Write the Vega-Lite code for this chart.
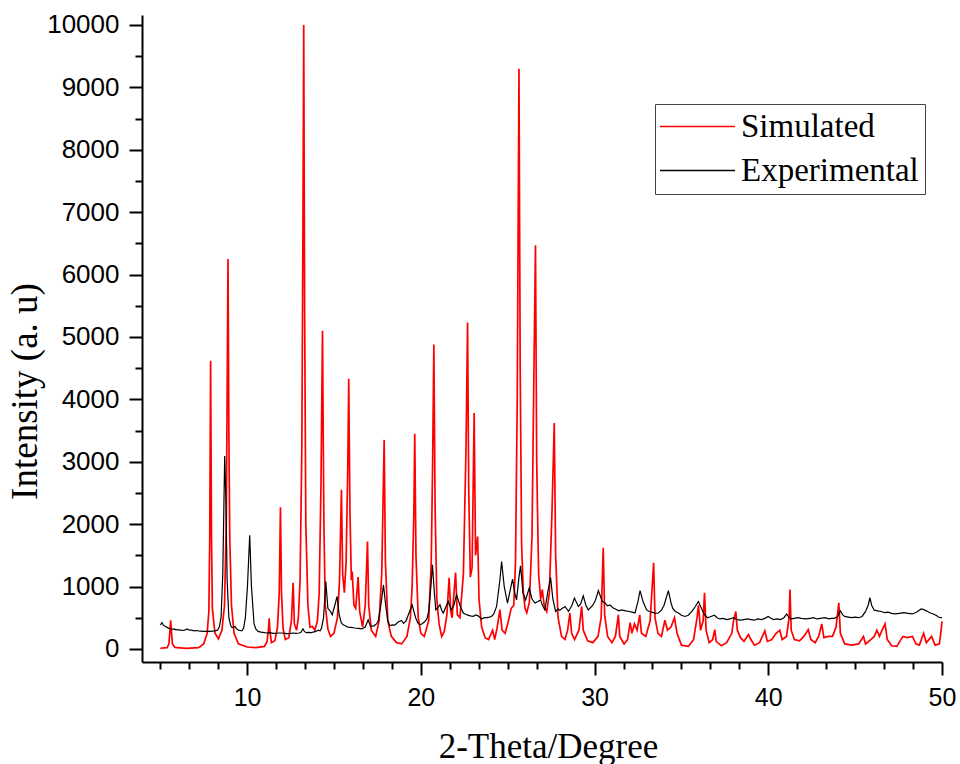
{
  "$schema": "https://vega.github.io/schema/vega-lite/v6.json",
  "autosize": {"type": "none"},
  "width": 800,
  "height": 647,
  "padding": {"left": 142, "top": 15, "right": 18, "bottom": 102},
  "background": "white",
  "config": {"view": {"stroke": null}},
  "datasets": {
    "sim": [
      {"x":5.0,"y":10},{"x":5.4,"y":20},{"x":5.5,"y":80},{"x":5.56,"y":300},{"x":5.6,"y":460},{"x":5.64,"y":300},{"x":5.7,"y":80},{"x":5.85,"y":25},{"x":6.5,"y":10},
      {"x":7.2,"y":20},{"x":7.5,"y":80},{"x":7.7,"y":250},{"x":7.8,"y":600},{"x":7.85,"y":1800},{"x":7.9,"y":4620},{"x":7.95,"y":1800},{"x":8.0,"y":650},{"x":8.15,"y":250},{"x":8.35,"y":160},
      {"x":8.55,"y":300},{"x":8.7,"y":700},{"x":8.8,"y":2000},{"x":8.85,"y":4000},{"x":8.9,"y":6250},{"x":8.95,"y":3500},{"x":9.0,"y":1800},{"x":9.1,"y":700},{"x":9.25,"y":250},{"x":9.5,"y":80},
      {"x":10.0,"y":30},{"x":10.5,"y":20},{"x":11.0,"y":40},{"x":11.15,"y":120},{"x":11.23,"y":320},{"x":11.27,"y":490},{"x":11.31,"y":300},{"x":11.4,"y":100},
      {"x":11.6,"y":130},{"x":11.75,"y":350},{"x":11.85,"y":900},{"x":11.92,"y":2270},{"x":11.98,"y":900},{"x":12.07,"y":330},{"x":12.2,"y":150},
      {"x":12.4,"y":180},{"x":12.55,"y":450},{"x":12.65,"y":1060},{"x":12.72,"y":400},{"x":12.85,"y":300},{"x":12.95,"y":500},{"x":13.05,"y":1100},
      {"x":13.15,"y":3200},{"x":13.21,"y":6500},{"x":13.26,"y":10000},{"x":13.31,"y":5500},{"x":13.38,"y":2000},{"x":13.5,"y":700},{"x":13.62,"y":350},{"x":13.76,"y":360},{"x":13.9,"y":300},
      {"x":14.05,"y":450},{"x":14.15,"y":900},{"x":14.25,"y":2600},{"x":14.34,"y":5100},{"x":14.42,"y":2000},{"x":14.5,"y":700},{"x":14.65,"y":320},{"x":14.8,"y":200},
      {"x":15.0,"y":250},{"x":15.2,"y":500},{"x":15.32,"y":1100},{"x":15.43,"y":2550},{"x":15.5,"y":1200},{"x":15.6,"y":900},{"x":15.7,"y":1400},{"x":15.8,"y":3000},{"x":15.85,"y":4330},{"x":15.92,"y":2200},
      {"x":16.0,"y":1100},{"x":16.05,"y":1240},{"x":16.15,"y":700},{"x":16.25,"y":650},{"x":16.39,"y":1150},{"x":16.48,"y":600},{"x":16.65,"y":350},{"x":16.8,"y":700},{"x":16.93,"y":1720},{"x":17.0,"y":700},
      {"x":17.15,"y":300},{"x":17.4,"y":200},{"x":17.6,"y":450},{"x":17.75,"y":1200},{"x":17.89,"y":3350},{"x":17.96,"y":1400},{"x":18.1,"y":450},{"x":18.3,"y":200},{"x":18.6,"y":100},{"x":18.9,"y":80},
      {"x":19.2,"y":200},{"x":19.4,"y":500},{"x":19.5,"y":1000},{"x":19.6,"y":2200},{"x":19.65,"y":3450},{"x":19.72,"y":1500},{"x":19.85,"y":500},{"x":20.0,"y":250},{"x":20.2,"y":200},
      {"x":20.45,"y":450},{"x":20.6,"y":1400},{"x":20.68,"y":3000},{"x":20.75,"y":4880},{"x":20.82,"y":2300},{"x":20.92,"y":800},{"x":21.05,"y":400},{"x":21.2,"y":200},
      {"x":21.35,"y":280},{"x":21.5,"y":550},{"x":21.63,"y":1140},{"x":21.72,"y":600},{"x":21.8,"y":500},{"x":22.0,"y":1225},{"x":22.1,"y":550},{"x":22.25,"y":500},
      {"x":22.45,"y":1200},{"x":22.6,"y":3200},{"x":22.69,"y":5230},{"x":22.76,"y":2500},{"x":22.85,"y":1150},{"x":22.95,"y":1300},{"x":23.07,"y":3780},{"x":23.15,"y":1500},{"x":23.27,"y":1800},{"x":23.35,"y":800},
      {"x":23.5,"y":350},{"x":23.7,"y":180},{"x":23.9,"y":150},{"x":24.13,"y":300},{"x":24.25,"y":150},{"x":24.4,"y":350},{"x":24.55,"y":630},{"x":24.68,"y":300},{"x":24.85,"y":250},
      {"x":25.0,"y":400},{"x":25.2,"y":650},{"x":25.35,"y":700},{"x":25.45,"y":1400},{"x":25.55,"y":4000},{"x":25.65,"y":9300},{"x":25.72,"y":4500},{"x":25.8,"y":1700},{"x":25.9,"y":900},
      {"x":26.0,"y":650},{"x":26.1,"y":580},{"x":26.25,"y":750},{"x":26.4,"y":1800},{"x":26.5,"y":4200},{"x":26.6,"y":6470},{"x":26.67,"y":3000},{"x":26.78,"y":1200},{"x":26.9,"y":800},{"x":26.99,"y":950},
      {"x":27.1,"y":700},{"x":27.25,"y":600},{"x":27.4,"y":900},{"x":27.55,"y":2200},{"x":27.68,"y":3620},{"x":27.76,"y":1500},{"x":27.9,"y":500},{"x":28.1,"y":200},{"x":28.3,"y":150},
      {"x":28.45,"y":300},{"x":28.58,"y":575},{"x":28.68,"y":250},{"x":28.85,"y":150},{"x":29.1,"y":300},{"x":29.26,"y":680},{"x":29.35,"y":300},{"x":29.6,"y":130},{"x":29.9,"y":100},
      {"x":30.2,"y":200},{"x":30.38,"y":500},{"x":30.5,"y":1620},{"x":30.58,"y":550},{"x":30.75,"y":200},{"x":31.0,"y":100},{"x":31.2,"y":200},{"x":31.37,"y":545},{"x":31.45,"y":200},{"x":31.7,"y":80},
      {"x":31.9,"y":150},{"x":32.05,"y":420},{"x":32.15,"y":250},{"x":32.3,"y":400},{"x":32.45,"y":300},{"x":32.6,"y":545},{"x":32.7,"y":250},{"x":32.95,"y":200},
      {"x":33.2,"y":450},{"x":33.4,"y":1380},{"x":33.48,"y":500},{"x":33.65,"y":250},{"x":33.85,"y":200},{"x":34.05,"y":460},{"x":34.2,"y":300},{"x":34.4,"y":350},{"x":34.6,"y":500},{"x":34.75,"y":250},
      {"x":35.0,"y":60},{"x":35.4,"y":40},{"x":35.7,"y":150},{"x":35.9,"y":500},{"x":35.98,"y":700},{"x":36.1,"y":300},{"x":36.25,"y":450},{"x":36.33,"y":900},{"x":36.42,"y":300},{"x":36.6,"y":100},
      {"x":36.8,"y":150},{"x":36.92,"y":310},{"x":37.0,"y":120},{"x":37.3,"y":50},{"x":37.6,"y":100},{"x":37.9,"y":250},{"x":38.0,"y":450},{"x":38.13,"y":600},{"x":38.22,"y":300},{"x":38.4,"y":180},
      {"x":38.6,"y":120},{"x":38.86,"y":230},{"x":39.0,"y":150},{"x":39.2,"y":60},{"x":39.5,"y":100},{"x":39.8,"y":290},{"x":39.95,"y":120},{"x":40.2,"y":150},{"x":40.45,"y":250},{"x":40.66,"y":300},{"x":40.8,"y":150},
      {"x":41.05,"y":200},{"x":41.2,"y":500},{"x":41.25,"y":950},{"x":41.32,"y":300},{"x":41.5,"y":150},{"x":41.8,"y":130},{"x":42.05,"y":200},{"x":42.3,"y":310},{"x":42.45,"y":150},{"x":42.7,"y":100},
      {"x":42.9,"y":200},{"x":43.08,"y":400},{"x":43.2,"y":180},{"x":43.45,"y":200},{"x":43.7,"y":200},{"x":43.9,"y":350},{"x":44.06,"y":740},{"x":44.15,"y":250},{"x":44.4,"y":80},{"x":44.8,"y":60},
      {"x":45.2,"y":80},{"x":45.48,"y":200},{"x":45.6,"y":80},{"x":45.9,"y":150},{"x":46.1,"y":200},{"x":46.25,"y":300},{"x":46.4,"y":200},{"x":46.55,"y":300},{"x":46.72,"y":400},{"x":46.85,"y":150},
      {"x":47.1,"y":50},{"x":47.4,"y":40},{"x":47.75,"y":200},{"x":48.0,"y":180},{"x":48.3,"y":200},{"x":48.5,"y":80},{"x":48.7,"y":60},{"x":48.94,"y":250},{"x":49.1,"y":100},{"x":49.4,"y":200},{"x":49.6,"y":60},
      {"x":49.85,"y":80},{"x":49.95,"y":300},{"x":50.0,"y":440}
    ],
    "exp": [
      {"x":5.0,"y":385},{"x":5.05,"y":400},{"x":5.1,"y":420},{"x":5.18,"y":380},{"x":5.3,"y":360},{"x":5.4,"y":345},{"x":5.5,"y":330},{"x":5.6,"y":325},{"x":5.7,"y":315},{"x":5.8,"y":320},
      {"x":5.9,"y":305},{"x":6.0,"y":310},{"x":6.1,"y":300},{"x":6.2,"y":300},{"x":6.3,"y":295},{"x":6.45,"y":305},{"x":6.55,"y":320},{"x":6.6,"y":310},{"x":6.7,"y":300},{"x":6.8,"y":300},
      {"x":6.95,"y":290},{"x":7.1,"y":295},{"x":7.2,"y":290},{"x":7.35,"y":285},{"x":7.5,"y":280},{"x":7.6,"y":280},{"x":7.75,"y":285},{"x":7.9,"y":280},{"x":8.0,"y":285},{"x":8.15,"y":290},
      {"x":8.3,"y":300},{"x":8.4,"y":350},{"x":8.5,"y":500},{"x":8.6,"y":1200},{"x":8.71,"y":3090},{"x":8.78,"y":2400},{"x":8.85,"y":1100},{"x":8.95,"y":500},{"x":9.05,"y":380},{"x":9.1,"y":350},
      {"x":9.2,"y":340},{"x":9.3,"y":360},{"x":9.4,"y":320},{"x":9.5,"y":300},{"x":9.6,"y":295},{"x":9.7,"y":290},{"x":9.8,"y":330},{"x":9.9,"y":500},{"x":10.02,"y":1000},{"x":10.15,"y":1820},
      {"x":10.25,"y":1000},{"x":10.4,"y":400},{"x":10.5,"y":320},{"x":10.63,"y":280},{"x":10.8,"y":270},{"x":11.0,"y":260},{"x":11.15,"y":255},{"x":11.3,"y":260},{"x":11.5,"y":250},{"x":11.65,"y":248},
      {"x":11.8,"y":255},{"x":12.0,"y":255},{"x":12.15,"y":250},{"x":12.3,"y":245},{"x":12.5,"y":250},{"x":12.65,"y":255},{"x":12.8,"y":250},{"x":13.0,"y":255},{"x":13.1,"y":265},{"x":13.22,"y":320},
      {"x":13.3,"y":280},{"x":13.4,"y":260},{"x":13.55,"y":265},{"x":13.7,"y":260},{"x":13.8,"y":270},{"x":13.95,"y":280},{"x":14.1,"y":300},{"x":14.2,"y":290},{"x":14.28,"y":330},{"x":14.4,"y":500},
      {"x":14.53,"y":1080},{"x":14.65,"y":650},{"x":14.8,"y":600},{"x":14.9,"y":545},{"x":15.05,"y":700},{"x":15.18,"y":840},{"x":15.3,"y":550},{"x":15.42,"y":420},{"x":15.53,"y":385},{"x":15.65,"y":370},
      {"x":15.8,"y":350},{"x":16.0,"y":345},{"x":16.2,"y":335},{"x":16.4,"y":330},{"x":16.6,"y":320},{"x":16.8,"y":350},{"x":16.97,"y":465},{"x":17.1,"y":360},{"x":17.3,"y":370},{"x":17.45,"y":400},
      {"x":17.55,"y":450},{"x":17.7,"y":700},{"x":17.85,"y":1025},{"x":18.0,"y":650},{"x":18.1,"y":450},{"x":18.21,"y":370},{"x":18.35,"y":385},{"x":18.5,"y":380},{"x":18.7,"y":430},{"x":18.89,"y":455},
      {"x":19.0,"y":410},{"x":19.15,"y":450},{"x":19.27,"y":540},{"x":19.5,"y":705},{"x":19.7,"y":500},{"x":19.82,"y":420},{"x":19.94,"y":385},{"x":20.05,"y":400},{"x":20.2,"y":430},{"x":20.35,"y":480},
      {"x":20.45,"y":600},{"x":20.58,"y":1000},{"x":20.67,"y":1350},{"x":20.78,"y":900},{"x":20.86,"y":625},{"x":20.98,"y":660},{"x":21.1,"y":705},{"x":21.2,"y":620},{"x":21.29,"y":575},{"x":21.45,"y":680},
      {"x":21.58,"y":760},{"x":21.75,"y":625},{"x":21.9,"y":700},{"x":22.06,"y":865},{"x":22.25,"y":700},{"x":22.44,"y":575},{"x":22.55,"y":560},{"x":22.7,"y":540},{"x":22.85,"y":530},{"x":23.02,"y":520},
      {"x":23.15,"y":545},{"x":23.3,"y":530},{"x":23.5,"y":480},{"x":23.65,"y":500},{"x":23.8,"y":500},{"x":23.95,"y":510},{"x":24.07,"y":520},{"x":24.2,"y":560},{"x":24.36,"y":680},{"x":24.55,"y":1100},
      {"x":24.65,"y":1400},{"x":24.8,"y":1000},{"x":24.99,"y":735},{"x":25.15,"y":950},{"x":25.28,"y":1120},{"x":25.4,"y":900},{"x":25.51,"y":785},{"x":25.65,"y":1150},{"x":25.74,"y":1330},{"x":25.88,"y":900},
      {"x":26.03,"y":785},{"x":26.24,"y":975},{"x":26.4,"y":800},{"x":26.57,"y":735},{"x":26.75,"y":760},{"x":26.89,"y":785},{"x":27.0,"y":700},{"x":27.14,"y":625},{"x":27.3,"y":900},{"x":27.47,"y":1145},
      {"x":27.6,"y":800},{"x":27.76,"y":600},{"x":27.9,"y":640},{"x":28.0,"y":620},{"x":28.15,"y":650},{"x":28.3,"y":680},{"x":28.5,"y":600},{"x":28.7,"y":700},{"x":28.84,"y":815},{"x":29.07,"y":680},
      {"x":29.2,"y":720},{"x":29.35,"y":850},{"x":29.5,"y":700},{"x":29.64,"y":625},{"x":29.9,"y":700},{"x":30.05,"y":780},{"x":30.22,"y":935},{"x":30.45,"y":760},{"x":30.6,"y":735},{"x":30.75,"y":690},
      {"x":30.89,"y":705},{"x":31.05,"y":660},{"x":31.2,"y":640},{"x":31.4,"y":610},{"x":31.56,"y":625},{"x":31.8,"y":610},{"x":32.0,"y":600},{"x":32.15,"y":590},{"x":32.33,"y":575},{"x":32.5,"y":760},
      {"x":32.62,"y":935},{"x":32.8,"y":750},{"x":33.0,"y":625},{"x":33.15,"y":600},{"x":33.3,"y":590},{"x":33.5,"y":570},{"x":33.67,"y":575},{"x":33.85,"y":620},{"x":34.0,"y":700},{"x":34.25,"y":935},
      {"x":34.4,"y":740},{"x":34.5,"y":650},{"x":34.65,"y":600},{"x":34.83,"y":575},{"x":35.0,"y":540},{"x":35.2,"y":520},{"x":35.4,"y":540},{"x":35.6,"y":600},{"x":35.8,"y":680},{"x":35.98,"y":760},
      {"x":36.2,"y":620},{"x":36.35,"y":540},{"x":36.5,"y":500},{"x":36.7,"y":520},{"x":36.9,"y":540},{"x":37.05,"y":500},{"x":37.2,"y":480},{"x":37.4,"y":490},{"x":37.6,"y":470},{"x":37.8,"y":480},
      {"x":38.0,"y":500},{"x":38.2,"y":470},{"x":38.4,"y":460},{"x":38.6,"y":470},{"x":38.8,"y":480},{"x":39.0,"y":470},{"x":39.2,"y":460},{"x":39.4,"y":480},{"x":39.6,"y":470},{"x":39.8,"y":490},
      {"x":40.0,"y":520},{"x":40.15,"y":490},{"x":40.3,"y":470},{"x":40.5,"y":480},{"x":40.7,"y":470},{"x":40.9,"y":500},{"x":41.06,"y":560},{"x":41.2,"y":500},{"x":41.3,"y":480},{"x":41.5,"y":490},
      {"x":41.7,"y":500},{"x":41.9,"y":490},{"x":42.2,"y":480},{"x":42.4,"y":490},{"x":42.6,"y":500},{"x":42.8,"y":480},{"x":43.0,"y":490},{"x":43.25,"y":500},{"x":43.5,"y":480},{"x":43.65,"y":490},
      {"x":43.8,"y":490},{"x":44.0,"y":520},{"x":44.15,"y":610},{"x":44.3,"y":540},{"x":44.4,"y":520},{"x":44.6,"y":510},{"x":44.8,"y":500},{"x":45.0,"y":510},{"x":45.2,"y":500},{"x":45.4,"y":520},
      {"x":45.6,"y":600},{"x":45.75,"y":700},{"x":45.85,"y":820},{"x":45.95,"y":700},{"x":46.1,"y":620},{"x":46.3,"y":610},{"x":46.5,"y":600},{"x":46.7,"y":580},{"x":46.9,"y":590},{"x":47.1,"y":570},
      {"x":47.3,"y":560},{"x":47.55,"y":570},{"x":47.8,"y":580},{"x":48.05,"y":570},{"x":48.3,"y":560},{"x":48.55,"y":590},{"x":48.8,"y":640},{"x":48.95,"y":630},{"x":49.1,"y":610},{"x":49.3,"y":580},
      {"x":49.5,"y":560},{"x":49.7,"y":530},{"x":49.8,"y":510},{"x":49.9,"y":500},{"x":50.0,"y":500}
    ]
  },
  "encoding": {
    "x": {
      "field": "x", "type": "quantitative",
      "scale": {"domain": [3.95, 50], "nice": false, "zero": false},
      "axis": {
        "title": "2-Theta/Degree",
        "titleFont": "Liberation Serif", "titleFontSize": 35, "titleFontWeight": "normal", "titleColor": "#000",
        "titleX": 406, "titleY": 95, "titleBaseline": "alphabetic", "titleAnchor": "middle",
        "values": [5, 6.6667, 8.3333, 10, 11.6667, 13.3333, 15, 16.6667, 18.3333, 20, 21.6667, 23.3333, 25, 26.6667, 28.3333, 30, 31.6667, 33.3333, 35, 36.6667, 38.3333, 40, 41.6667, 43.3333, 45, 46.6667, 48.3333, 50],
        "labelExpr": "abs(datum.value - round(datum.value/10)*10) < 0.01 ? format(datum.value, 'd') : ''",
        "labelFont": "Liberation Sans", "labelFontSize": 25, "labelColor": "#000", "labelPadding": 10,
        "labelFlush": false, "labelOverlap": false,
        "tickSize": {"condition": {"test": "abs(datum.value - round(datum.value/10)*10) < 0.01", "value": 13}, "value": 7},
        "tickWidth": 2, "tickColor": "#000",
        "domainColor": "#000", "domainWidth": 2, "grid": false
      }
    },
    "y": {
      "field": "y", "type": "quantitative",
      "scale": {"domain": [-210, 10160], "nice": false, "zero": false},
      "axis": {
        "title": "Intensity (a. u)",
        "titleFont": "Liberation Serif", "titleFontSize": 37, "titleFontWeight": "normal", "titleColor": "#000",
        "titleAngle": -90, "titleAlign": "center", "titleBaseline": "middle", "titleX": -117, "titleY": 376,
        "values": [0, 500, 1000, 1500, 2000, 2500, 3000, 3500, 4000, 4500, 5000, 5500, 6000, 6500, 7000, 7500, 8000, 8500, 9000, 9500, 10000],
        "labelExpr": "datum.value % 1000 === 0 ? format(datum.value, 'd') : ''",
        "labelFont": "Liberation Sans", "labelFontSize": 26, "labelColor": "#000", "labelPadding": 10,
        "labelOverlap": false, "labelFlush": false,
        "tickSize": {"condition": {"test": "datum.value % 1000 === 0", "value": 13}, "value": 7},
        "tickWidth": 2, "tickColor": "#000",
        "domainColor": "#000", "domainWidth": 2, "grid": false
      }
    },
    "color": {
      "scale": {"domain": ["Simulated", "Experimental"], "range": ["#ff0000", "#000000"]},
      "legend": {
        "title": null, "orient": "none", "legendX": 513, "legendY": 89,
        "symbolType": "M-3,0H3", "symbolSize": 625, "symbolStrokeWidth": 1.5, "symbolOffset": 20,
        "labelFont": "Liberation Serif", "labelFontSize": 33, "labelColor": "#000", "labelOffset": 27,
        "strokeColor": "#444", "padding": 6, "rowPadding": 10, "labelLimit": 400
      }
    }
  },
  "layer": [
    {"data": {"name": "sim"}, "mark": {"type": "line", "strokeWidth": 1.7}, "encoding": {"color": {"datum": "Simulated"}}},
    {"data": {"name": "exp"}, "mark": {"type": "line", "strokeWidth": 1.2}, "encoding": {"color": {"datum": "Experimental"}}}
  ]
}
